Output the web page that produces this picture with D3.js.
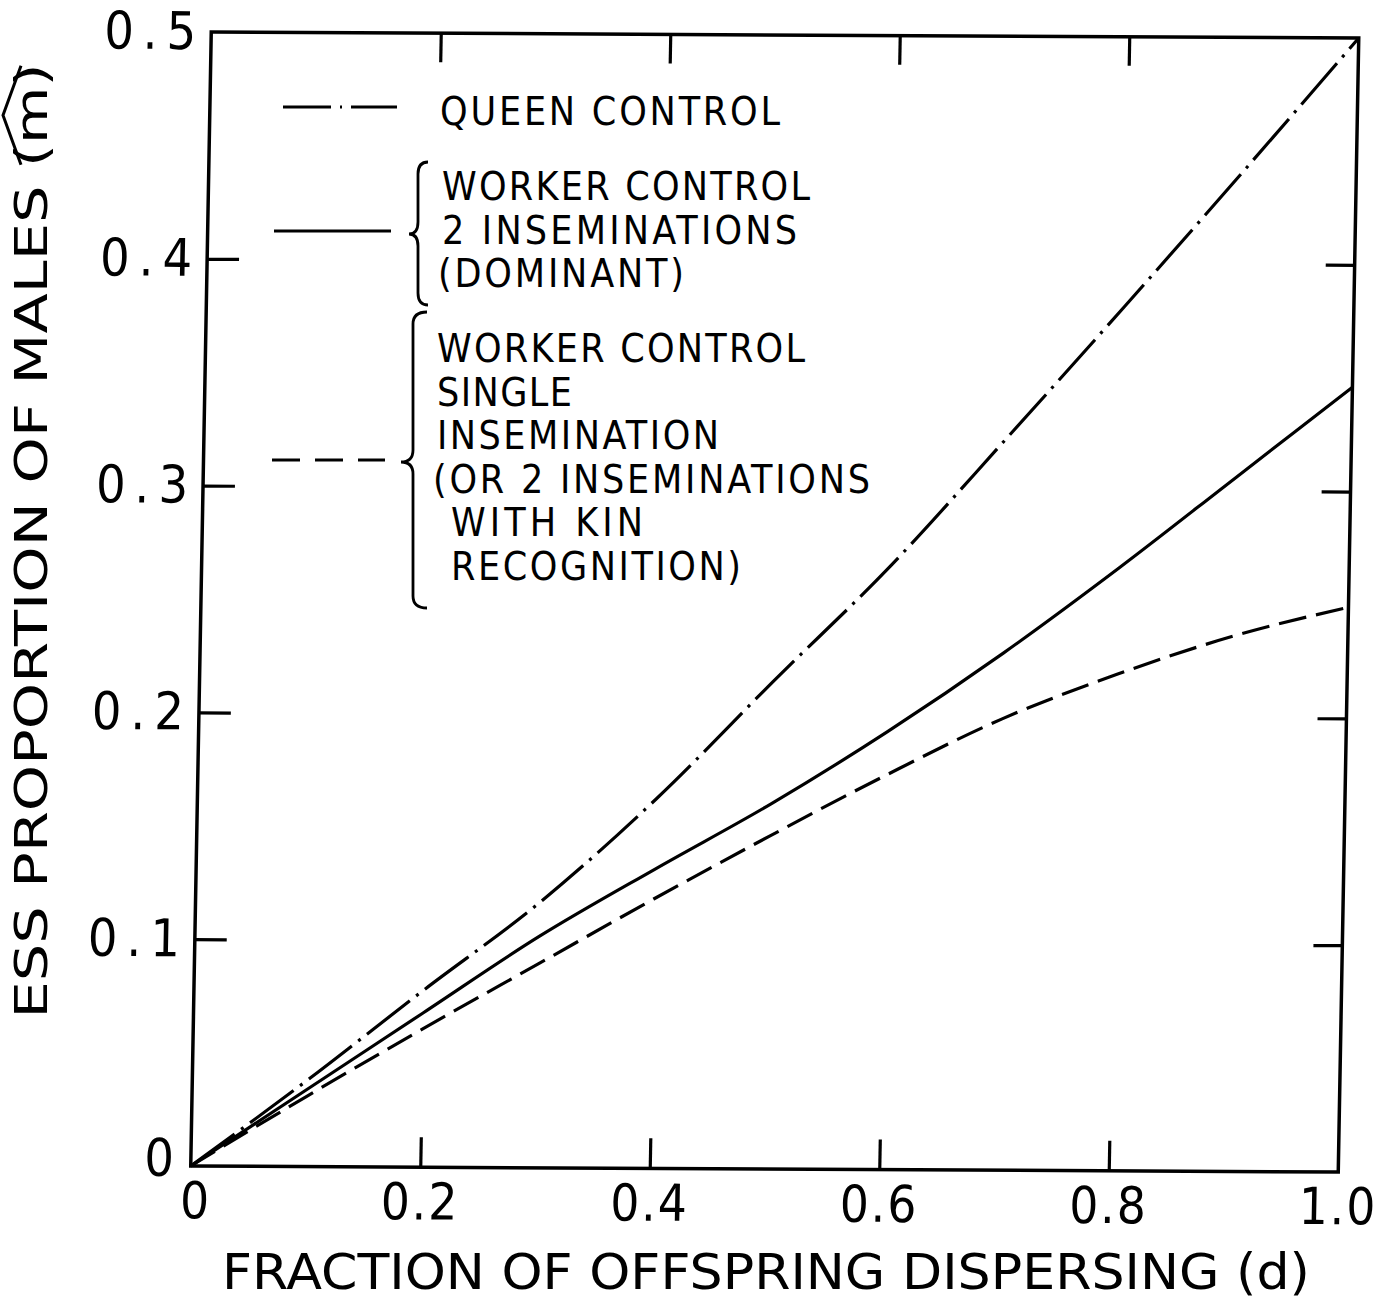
<!DOCTYPE html>
<html>
<head>
<meta charset="utf-8">
<script src="https://cdn.jsdelivr.net/npm/d3@7/dist/d3.min.js"></script>
<style>
  html, body { margin: 0; padding: 0; background: #fff; }
  svg { display: block; }
</style>
</head>
<body>
<svg id="chart" width="1378" height="1303"></svg>
<script>
// ---------------- data ----------------
const dispersal = [0, 0.1, 0.2, 0.3, 0.4, 0.5, 0.6, 0.7, 0.8, 0.9, 1.0];
const queenControl = [0, 0.038, 0.078, 0.117, 0.163, 0.215, 0.266, 0.323, 0.381, 0.440, 0.500];
const workerTwoInseminations = [0, 0.034, 0.068, 0.102, 0.132, 0.161, 0.193, 0.228, 0.266, 0.306, 0.346];
const workerSingleInsemination = [0, 0.031, 0.061, 0.090, 0.119, 0.147, 0.174, 0.199, 0.219, 0.236, 0.249];

const xTickValues = [0, 0.2, 0.4, 0.6, 0.8, 1.0];
const xTickLabels = ["0", "0.2", "0.4", "0.6", "0.8", "1.0"];
const yTickValues = [0, 0.1, 0.2, 0.3, 0.4, 0.5];
const yTickLabels = ["0", "0.1", "0.2", "0.3", "0.4", "0.5"];

const xTitle = "FRACTION OF OFFSPRING DISPERSING (d)";
const yTitle = "ESS PROPORTION OF MALES (m)";

const legendQueen = ["QUEEN CONTROL"];
const legendWorkerTwo = ["WORKER CONTROL", "2 INSEMINATIONS", "(DOMINANT)"];
const legendWorkerSingle = ["WORKER CONTROL", "SINGLE", "INSEMINATION", "(OR 2 INSEMINATIONS", " WITH KIN", " RECOGNITION)"];

// ---------------- layout ----------------
const FONT_C = "'DejaVu Sans Condensed', 'DejaVu Sans', 'Liberation Sans', sans-serif";
const FONT = "'DejaVu Sans', 'Liberation Sans', sans-serif";
const svg = d3.select("#chart");
svg.append("rect").attr("width", 1378).attr("height", 1303).attr("fill", "#fff");

const x = d3.scaleLinear().domain([0, 1]).range([189, 1340]);
const y = d3.scaleLinear().domain([0, 0.5]).range([1165, 33]);

// the scanned figure is slightly sheared; reproduce with an affine transform
const plot = svg.append("g")
  .attr("transform", "matrix(0.99696,0.005213,-0.01811,1.001767,23.42,-2.045)");

// frame
plot.append("rect")
  .attr("x", x(0)).attr("y", y(0.5))
  .attr("width", x(1) - x(0)).attr("height", y(0) - y(0.5))
  .attr("fill", "none").attr("stroke", "#000").attr("stroke-width", 3.5);

function styleAxis(g, fontSize) {
  g.select(".domain").remove();
  g.selectAll(".tick line").attr("stroke", "#000").attr("stroke-width", 3.2);
  g.selectAll(".tick text")
    .attr("fill", "#000")
    .attr("font-family", FONT_C)
    .attr("font-stretch", "condensed")
    .attr("font-size", fontSize);
}

// bottom axis (ticks pointing inward)
const gx = plot.append("g")
  .attr("transform", `translate(0,${y(0)})`)
  .call(d3.axisBottom(x).tickValues(xTickValues).tickSize(-30).tickPadding(16)
        .tickFormat((d, i) => xTickLabels[i]));
styleAxis(gx, 51);
gx.selectAll(".tick text").attr("letter-spacing", 2);
gx.selectAll(".tick").filter(d => d === 0).select("text").attr("dx", 5);
gx.selectAll(".tick").filter(d => d === 0 || d === 1).select("line").remove();

// top axis
const gxt = plot.append("g")
  .attr("transform", `translate(0,${y(0.5)})`)
  .call(d3.axisTop(x).tickValues(xTickValues.filter(d => d > 0 && d < 1)).tickSize(-29).tickFormat(""));
styleAxis(gxt, 10);

// left axis
const gy = plot.append("g")
  .attr("transform", `translate(${x(0)},0)`)
  .call(d3.axisLeft(y).tickValues(yTickValues).tickSize(-32).tickPadding(6)
        .tickFormat((d, i) => yTickLabels[i]));
styleAxis(gy, 52);
gy.selectAll(".tick text").attr("letter-spacing", 9);
gy.selectAll(".tick").filter(d => d === 0).select("text").attr("dy", "0.18em").attr("dx", -2);
gy.selectAll(".tick").filter(d => d === 0 || d === 0.5).select("line").remove();

// right axis
const gyr = plot.append("g")
  .attr("transform", `translate(${x(1)},0)`)
  .call(d3.axisRight(y).tickValues(yTickValues.filter(d => d > 0 && d < 0.5)).tickSize(-29).tickFormat(""));
styleAxis(gyr, 10);

// curves
const line = d3.line().x(p => x(p[0])).y(p => y(p[1])).curve(d3.curveMonotoneX);
const series = [
  { values: queenControl, dash: "54,8,3,8" },
  { values: workerTwoInseminations, dash: null },
  { values: workerSingleInsemination, dash: "28,10" }
];
plot.selectAll("path.curve")
  .data(series)
  .join("path")
  .attr("class", "curve")
  .attr("d", s => line(dispersal.map((d, i) => [d, s.values[i]])))
  .attr("fill", "none")
  .attr("stroke", "#000")
  .attr("stroke-width", 3.2)
  .attr("stroke-dasharray", s => s.dash);

// ---------------- legend ----------------
const legend = svg.append("g")
  .attr("font-family", FONT_C).attr("font-stretch", "condensed")
  .attr("font-size", 39).attr("fill", "#000");

// line samples
const samples = [
  { x1: 283, x2: 397, y: 107, dash: "48,9,2,9" },
  { x1: 274, x2: 391, y: 231, dash: null },
  { x1: 272, x2: 385, y: 460, dash: "28,15" }
];
legend.selectAll("line.sample").data(samples).join("line")
  .attr("class", "sample")
  .attr("x1", s => s.x1).attr("x2", s => s.x2)
  .attr("y1", s => s.y).attr("y2", s => s.y)
  .attr("stroke", "#000").attr("stroke-width", 3)
  .attr("stroke-dasharray", s => s.dash);

// braces
function brace(xr, xm, xl, top, mid, bot) {
  const r = 12;
  return `M${xr},${top} Q${xm},${top} ${xm},${top + r} L${xm},${mid - r} Q${xm},${mid} ${xl},${mid}` +
         ` Q${xm},${mid} ${xm},${mid + r} L${xm},${bot - r} Q${xm},${bot} ${xr},${bot}`;
}
legend.append("path").attr("d", brace(428, 418, 409, 162, 234, 305))
  .attr("fill", "none").attr("stroke", "#000").attr("stroke-width", 2.8);
legend.append("path").attr("d", brace(427, 413, 401, 312, 462, 608))
  .attr("fill", "none").attr("stroke", "#000").attr("stroke-width", 2.8);

// texts
const legendBlocks = [
  { lines: legendQueen, x: 440, y0: 125, widths: [340] },
  { lines: legendWorkerTwo, x: 442, y0: 200, widths: [368, 355, 246] },
  { lines: legendWorkerSingle, x: 437, y0: 362, widths: [368, 135, 282, 437, 192, 290] }
];
const lineGap = 43.6;
legendBlocks.forEach(b => {
  b.lines.forEach((t, i) => {
    const lead = t.startsWith(" ") ? 14 : 0;
    legend.append("text")
      .attr("x", b.x + lead - (t.startsWith("(") ? 4 : 0))
      .attr("y", b.y0 + i * lineGap)
      .attr("textLength", b.widths[i])
      .attr("lengthAdjust", "spacing")
      .text(t.trim());
  });
});

// ---------------- axis titles ----------------
svg.append("text")
  .attr("x", 766).attr("y", 1289)
  .attr("text-anchor", "middle")
  .attr("font-family", FONT).attr("font-size", 50)
  .attr("textLength", 1088).attr("lengthAdjust", "spacingAndGlyphs")
  .attr("fill", "#000")
  .text(xTitle);

const yT = svg.append("text")
  .attr("transform", "translate(47,541) rotate(-90)")
  .attr("x", 0).attr("y", 0)
  .attr("text-anchor", "middle")
  .attr("font-family", FONT).attr("font-size", 44)
  .attr("textLength", 955).attr("lengthAdjust", "spacingAndGlyphs")
  .attr("fill", "#000")
  .text(yTitle);

// circumflex (hat) over m
try {
  const node = yT.node();
  const iOpen = yTitle.lastIndexOf("(");
  const iClose = yTitle.lastIndexOf(")");
  const e0 = node.getExtentOfChar(iOpen);
  const e1 = node.getExtentOfChar(iClose);
  const x0 = e0.x + e0.width * 0.1;
  const x1 = e1.x + e1.width * 0.9;
  svg.append("path")
    .attr("transform", "translate(47,541) rotate(-90)")
    .attr("d", `M${x0},-26 L${(x0 + x1) / 2},-44 L${x1},-26`)
    .attr("fill", "none").attr("stroke", "#000").attr("stroke-width", 3);
} catch (e) {}
</script>
</body>
</html>
